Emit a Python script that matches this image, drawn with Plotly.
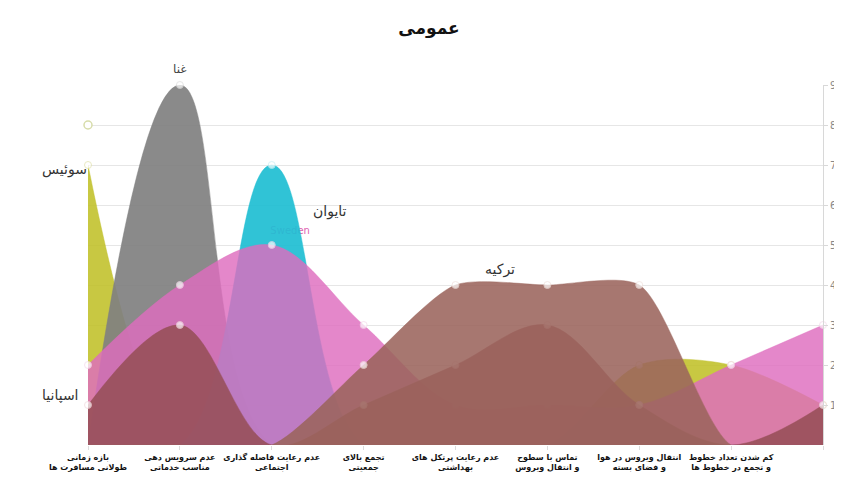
import plotly.graph_objects as go

categories = [
    "بازه زمانی<br>طولانی مسافرت ها",
    "عدم سرویس دهی<br>مناسب خدماتی",
    "عدم رعایت فاصله گذاری<br>اجتماعی",
    "تجمع بالای<br>جمعیتی",
    "عدم رعایت پرتکل های<br>بهداشتی",
    "تماس با سطوح<br>و انتقال ویروس",
    "انتقال ویروس در هوا<br>و فضای بسته",
    "کم شدن تعداد خطوط<br>و تجمع در خطوط ها",
    "",
]

switzerland = [7, 0, 0, 0, 0, 0, 2, 2, 1]
ghana = [0, 9, 0, 0, 0, 0, 0, 0, 0]
taiwan = [0, 0, 7, 0, 0, 0, 0, 0, 0]
other = [2, 4, 5, 3, 1, 1, 1, 2, 3]
spain = [1, 3, 0, 1, 2, 3, 1, 0, 1]
turkey = [0, 0, 0, 2, 4, 4, 4, 0, 0]
extra = [8, None, None, None, None, None, None, None, None]

y_ticks = [1, 2, 3, 4, 5, 6, 7, 8, 9]

xs = list(range(len(categories)))

series = [
    ("سوئیس", switzerland, "rgba(192,192,40,0.88)", "rgba(225,225,170,1)", 0.9),
    ("غنا", ghana, "rgba(128,128,128,0.92)", "rgba(220,220,220,1)", 1.3),
    ("تایوان", taiwan, "rgba(30,190,210,0.92)", "rgba(200,240,245,1)", 1.2),
    ("Sweden", other, "rgba(222,108,190,0.82)", "rgba(245,215,235,1)", 1.0),
    ("اسپانیا", spain, "rgba(150,78,86,0.88)", "rgba(240,215,220,1)", 1.0),
    ("ترکیه", turkey, "rgba(155,100,92,0.88)", "rgba(240,225,220,1)", 0.7),
]

fig = go.Figure()

for name, vals, fc, mc, sm in series:
    if name == "تایوان":
        # small series label partly hidden behind the cyan area
        fig.add_trace(go.Scatter(
            x=[2.2], y=[5.33], mode="text", text=["Sweden"],
            textfont=dict(color="#e05fb0", size=10, family="DejaVu Sans"),
            showlegend=False, hoverinfo="skip", cliponaxis=False))
    sizes = [7 if v else 0 for v in vals]
    fig.add_trace(go.Scatter(
        x=xs, y=vals, name=name, mode="lines+markers",
        line=dict(shape="spline", smoothing=sm, width=0.5, color=fc),
        fill="tozeroy", fillcolor=fc,
        marker=dict(size=sizes, color="white", line=dict(color=mc, width=1)),
        showlegend=False, cliponaxis=False,
    ))

fig.add_trace(go.Scatter(
    x=xs, y=extra, mode="markers",
    marker=dict(size=8, color="white", line=dict(color="rgba(215,220,170,1)", width=1.5)),
    showlegend=False, cliponaxis=False,
))

label_font = dict(family="DejaVu Sans", size=14, color="#333333")
annotations = [
    dict(x=1, y=9, text="غنا", yshift=16, showarrow=False,
         font=dict(family="DejaVu Sans", size=12, color="#444444")),
    dict(x=-0.065, xref="paper", y=6.9, text="سوئیس", showarrow=False, font=label_font),
    dict(x=-0.065, xref="paper", y=1.25, text="اسپانیا", showarrow=False, font=label_font),
    dict(x=2.63, y=5.83, text="تایوان", showarrow=False, font=label_font),
    dict(x=4.48, y=4.38, text="ترکیه", showarrow=False, font=label_font),
]

fig.update_layout(
    width=842, height=487,
    margin=dict(l=80, r=27, t=77, b=50),
    paper_bgcolor="white", plot_bgcolor="white",
    title=dict(text="<b>عمومی</b>", x=0.5, xanchor="center", y=0.959, yanchor="middle",
               font=dict(family="DejaVu Sans", size=17, color="#111111")),
    annotations=annotations,
    xaxis=dict(
        range=[0, 8], tickmode="array", tickvals=xs, ticktext=categories,
        tickangle=0, automargin=False,
        showgrid=False, zeroline=False, showline=False,
        ticks="outside", ticklen=4, tickcolor="#dddddd",
        tickfont=dict(family="DejaVu Sans", size=8, color="#111111", weight="bold"),
    ),
    yaxis=dict(
        range=[0, 9], side="right", tickmode="array", tickvals=y_ticks,
        automargin=False,
        showgrid=True, gridcolor="#e6e6e6", gridwidth=1, zeroline=False,
        showline=True, linecolor="#d8d8d8", ticks="outside", ticklen=4, tickcolor="#d8d8d8",
        tickfont=dict(family="DejaVu Sans", size=10, color="#888888"),
    ),
)

fig.write_html("out.html")
